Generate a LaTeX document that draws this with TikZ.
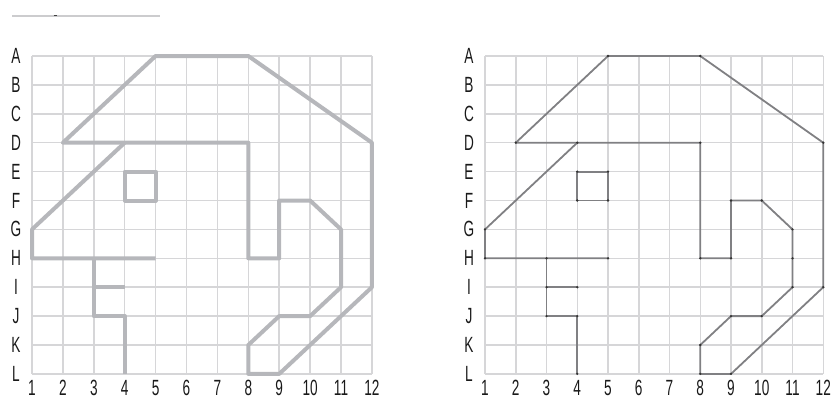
\documentclass[tikz,border=0pt]{standalone}
\usepackage{fontspec}
\newfontfamily\condfont[FakeStretch=0.62]{Liberation Sans}
\definecolor{gridgray}{RGB}{214,214,216}
\definecolor{shapegray}{RGB}{182,183,187}
\definecolor{linegray}{RGB}{128,128,131}
\definecolor{rulegray}{RGB}{204,204,206}

\begin{document}
\begin{tikzpicture}[
        gridline/.style={gridgray, line width=1.5pt},
        thickshape/.style={shapegray, line width=4pt, line join=round},
        thinshape/.style={linegray, line width=1.8pt, line join=round},
        vertexdot/.style={circle, fill=black!80, inner sep=0pt, minimum size=2.6pt},
        gridlab/.style={font=\condfont\fontsize{22}{22}\selectfont, text=black!90, inner sep=0pt}
      ]
        \useasboundingbox (0pt,0pt) rectangle (834pt,-400pt);

        % short rule at the top
        \coordinate (rule-a) at (12pt,-15.5pt);
        \coordinate (rule-b) at (160pt,-15.5pt);
        \coordinate (rule-t) at (55pt,-15.5pt);
        \draw[rulegray, line width=2pt] (rule-a) -- (rule-b);
        \draw[black!75, line width=1.6pt] ([xshift=-1.5pt]rule-t) -- ([xshift=1.5pt]rule-t);

        \foreach \side/\ox/\dx/\look in {L/32/30.9/thickshape, R/485/30.75/thinshape} {
          \begin{scope}[shift={(\ox pt,-56pt)}, x=\dx pt, y=-28.9pt]
            % grid points
            \foreach \r [count=\i from 0] in {A,...,L}
              \foreach \c in {1,...,12}
                \coordinate (\side-\c-\r) at (\c-1,\i);

            % grid
            \foreach \c in {1,...,12}
              \draw[gridline] (\side-\c-A) -- (\side-\c-L);
            \foreach \r in {A,...,L}
              \draw[gridline] (\side-1-\r) -- (\side-12-\r);

            % labels
            \foreach \r in {A,...,L}
              \node[gridlab] (\side-lab-\r) at ([xshift=-16pt]\side-1-\r) {\r};
            \foreach \c in {1,...,12}
              \node[gridlab] (\side-lab-\c) at ([yshift=-14pt]\side-\c-L) {\c};

            % the figure
            \draw[\look] (\side-2-D) -- (\side-5-A) -- (\side-8-A) -- (\side-12-D)
              -- (\side-12-I) -- (\side-9-L) -- (\side-8-L) -- (\side-8-K)
              -- (\side-9-J) -- (\side-10-J) -- (\side-11-I) -- (\side-11-G)
              -- (\side-10-F) -- (\side-9-F) -- (\side-9-H) -- (\side-8-H)
              -- (\side-8-D) -- cycle;
            \draw[\look] (\side-4-D) -- (\side-1-G) -- (\side-1-H) -- (\side-5-H);
            \draw[\look] (\side-3-H) -- (\side-3-J) -- (\side-4-J) -- (\side-4-L);
            \draw[\look] (\side-3-I) -- (\side-4-I);
            \draw[\look] (\side-4-E) rectangle (\side-5-F);
          \end{scope}
        }

        % vertex dots on the right copy
        \foreach \p in {2-D,5-A,8-A,12-D,12-I,9-L,8-L,8-K,9-J,10-J,11-I,11-H,11-G,
                        10-F,9-F,9-H,8-H,8-D,4-D,1-G,1-H,3-H,5-H,3-I,4-I,3-J,4-J,
                        4-L,4-E,5-E,4-F,5-F}
          \node[vertexdot] (dot-\p) at (R-\p) {};
      \end{tikzpicture}
\end{document}
